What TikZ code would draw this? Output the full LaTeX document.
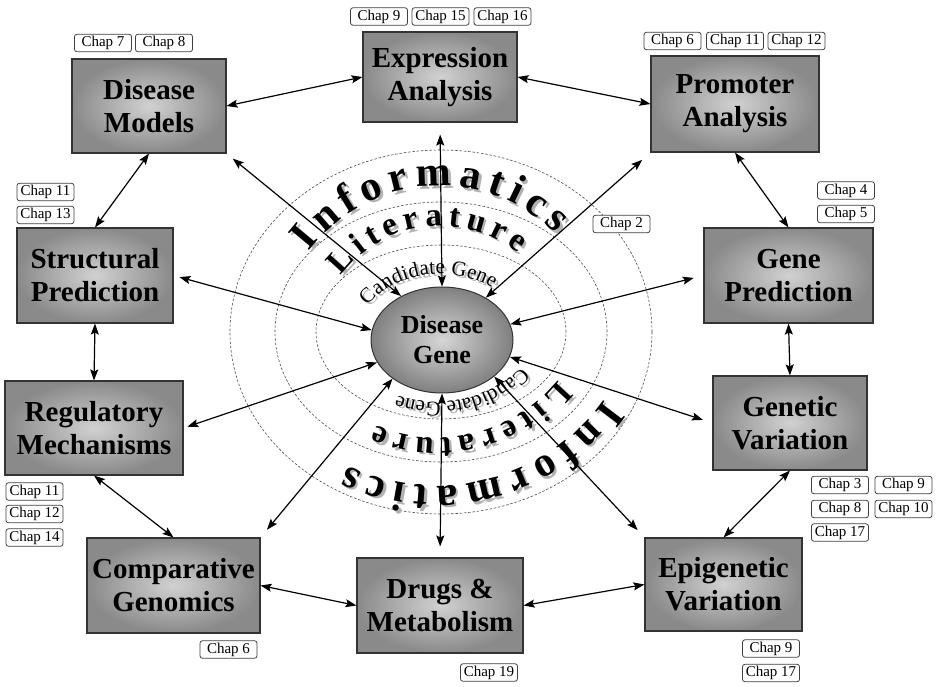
\documentclass[tikz,border=0pt]{standalone}
\usepackage{fontspec}
\setmainfont{Liberation Serif}
\usetikzlibrary{arrows.meta,decorations.text,shapes.geometric}
\begin{document}
\begin{tikzpicture}[x=1pt,y=1pt,
  box/.style={draw=black!80, line width=1.1pt, shading=radial, inner color=black!18, outer color=black!46,
    align=center, font=\fontsize{29}{33}\selectfont\bfseries, inner sep=0pt},
  chap/.style={draw=black!75, line width=0.8pt, rounded corners=2.5pt, fill=white,
    font=\fontsize{15}{15}\selectfont, minimum width=57pt, minimum height=17.5pt, inner sep=1pt},
  dar/.style={{Stealth[length=11pt,width=8pt,inset=2pt]}-{Stealth[length=11pt,width=8pt,inset=2pt]}, line width=1.2pt},
  ring/.style={draw=black!70, dash pattern=on 2.5pt off 1.8pt, line width=0.6pt},
  arctxt/.style={decorate, decoration={text along path, text align={fit to path}, text={#1}}},
  shadowtxt/.style={decorate, decoration={text along path, text align={fit to path}, text color=black!30, text={#1}}},
]
\useasboundingbox (0,0) rectangle (939,686);
\fill[white] (0,0) rectangle (939,686);

% dashed rings
\draw[ring] (441,354) ellipse [x radius=211, y radius=182];
\draw[ring] (441,354) ellipse [x radius=166, y radius=130];
\draw[ring] (441,354) ellipse [x radius=125, y radius=87];

% curved texts - shadows
\begin{scope}[xshift=2.5pt, yshift=-2.5pt]
\path[shadowtxt={|\fontsize{42}{42}\selectfont\bfseries|Informatics}] (440,336) ++(143:164) arc[start angle=143, end angle=45, radius=164];
\path[shadowtxt={|\fontsize{33}{33}\selectfont\bfseries|Literature}] (440,336) ++(143:124) arc[start angle=143, end angle=51, radius=124];
\path[shadowtxt={|\fontsize{21}{21}\selectfont|Candidate Gene}] (440,336) ++({90*cos(144)},{76*sin(144)}) arc[start angle=144, end angle=54, x radius=90, y radius=76];
\path[shadowtxt={|\fontsize{42}{42}\selectfont\bfseries|Informatics}] (437,404) ++(-35:204) arc[start angle=-35, end angle=-116, radius=204];
\path[shadowtxt={|\fontsize{33}{33}\selectfont\bfseries|Literature}] (437,404) ++(-39:156) arc[start angle=-39, end angle=-113, radius=156];
\path[shadowtxt={|\fontsize{21}{21}\selectfont|Candidate Gene}] (437,404) ++(-45:120) arc[start angle=-45, end angle=-109, radius=120];
\end{scope}
% curved texts
\path[arctxt={|\fontsize{42}{42}\selectfont\bfseries|Informatics}] (440,336) ++(143:164) arc[start angle=143, end angle=45, radius=164];
\path[arctxt={|\fontsize{33}{33}\selectfont\bfseries|Literature}] (440,336) ++(143:124) arc[start angle=143, end angle=51, radius=124];
\path[arctxt={|\fontsize{21}{21}\selectfont|Candidate Gene}] (440,336) ++({90*cos(144)},{76*sin(144)}) arc[start angle=144, end angle=54, x radius=90, y radius=76];
\path[arctxt={|\fontsize{42}{42}\selectfont\bfseries|Informatics}] (437,404) ++(-35:204) arc[start angle=-35, end angle=-116, radius=204];
\path[arctxt={|\fontsize{33}{33}\selectfont\bfseries|Literature}] (437,404) ++(-39:156) arc[start angle=-39, end angle=-113, radius=156];
\path[arctxt={|\fontsize{21}{21}\selectfont|Candidate Gene}] (437,404) ++(-45:120) arc[start angle=-45, end angle=-109, radius=120];

% boxes
\node[box, minimum width=154pt, minimum height=94pt] (dm) at (149,580) {Disease\\Models};
\node[box, minimum width=154pt, minimum height=90pt] (ex) at (440,609) {Expression\\Analysis};
\node[box, minimum width=168pt, minimum height=96pt] (pa) at (735,582) {Promoter\\Analysis};
\node[box, minimum width=156pt, minimum height=95pt] (sp) at (95,410.5) {Structural\\Prediction};
\node[box, minimum width=169pt, minimum height=95pt] (gp) at (788.5,410.5) {Gene\\Prediction};
\node[box, minimum width=178pt, minimum height=94pt] (rm) at (94,258) {Regulatory\\Mechanisms};
\node[box, minimum width=154pt, minimum height=94pt] (gv) at (790,263) {Genetic\\Variation};
\node[box, minimum width=173pt, minimum height=95pt] (cg) at (173.5,100.5) {Comparative\\Genomics};
\node[box, minimum width=166pt, minimum height=95pt] (dr) at (440,80.5) {Drugs \&\\Metabolism};
\node[box, minimum width=157pt, minimum height=93pt] (ev) at (723.5,101.5) {Epigenetic\\Variation};

\node[ellipse, draw=black!80, line width=1pt, shading=radial, inner color=black!16, outer color=black!50,
  minimum width=142pt, minimum height=106pt, inner sep=0pt, align=center,
  font=\fontsize{26}{30}\selectfont\bfseries] (dg) at (442,346) {Disease\\Gene};

% radial arrows
\draw[dar, shorten >=8pt] (dg.133) -- (dm.south east);
\draw[dar, shorten >=12pt] (dg.90) -- (ex.south);
\draw[dar, shorten >=11pt] (dg.44) -- (pa.south west);
\draw[dar, shorten >=6pt] (dg.172) -- (sp.east);
\draw[dar, shorten >=10pt] (dg.13) -- (gp.west);
\draw[dar, shorten >=4pt] (dg.199.5) -- (rm.east);
\draw[dar, shorten >=10pt] (dg.346) -- (gv.west);
\draw[dar, shorten >=10pt] (dg.218) -- (cg.north east);
\draw[dar, shorten >=11pt] (dg.270) -- (dr.north);
\draw[dar, shorten >=10pt] (dg.325) -- (ev.north west);

% peripheral arrows
\draw[dar] (dm.east) -- (ex.west);
\draw[dar] (ex.east) -- (pa.west);
\draw[dar] (dm.south) -- (sp.north);
\draw[dar] (sp.south) -- (rm.north);
\draw[dar] (rm.south) -- (cg.north);
\draw[dar] (cg.east) -- (dr.west);
\draw[dar] (dr.east) -- (ev.west);
\draw[dar] (ev.north) -- (gv.south);
\draw[dar] (gv.north) -- (gp.south);
\draw[dar] (gp.north) -- (pa.south);

% chapter labels
\node[chap] (dm7) at (103,643) {Chap 7};
\node[chap] (dm8) at (164,643) {Chap 8};
\node[chap] (ex9) at (379,669.5) {Chap 9};
\node[chap] (ex15) at (440.5,669.5) {Chap 15};
\node[chap] (ex16) at (502.5,669.5) {Chap 16};
\node[chap] (pa6) at (672.5,645) {Chap 6};
\node[chap] (pa11) at (735,645) {Chap 11};
\node[chap] (pa12) at (796.5,645) {Chap 12};
\node[chap] (sp11) at (45.5,494) {Chap 11};
\node[chap] (sp13) at (45.5,471) {Chap 13};
\node[chap] (gp4) at (846,495.5) {Chap 4};
\node[chap] (gp5) at (846,472) {Chap 5};
\node[chap] (dg2) at (621.5,462) {Chap 2};
\node[chap] (rm11) at (34.5,194.5) {Chap 11};
\node[chap] (rm12) at (34.5,172) {Chap 12};
\node[chap] (rm14) at (34.5,148.5) {Chap 14};
\node[chap] (gv3) at (840,201) {Chap 3};
\node[chap] (gv9) at (903.5,201) {Chap 9};
\node[chap] (gv8) at (840,177) {Chap 8};
\node[chap] (gv10) at (903.5,177) {Chap 10};
\node[chap] (gv17) at (840,153.5) {Chap 17};
\node[chap] (cg6) at (228.5,36.5) {Chap 6};
\node[chap] (dr19) at (489,13.5) {Chap 19};
\node[chap] (ev9) at (771,37.5) {Chap 9};
\node[chap] (ev17) at (771,13) {Chap 17};
\end{tikzpicture}
\end{document}
